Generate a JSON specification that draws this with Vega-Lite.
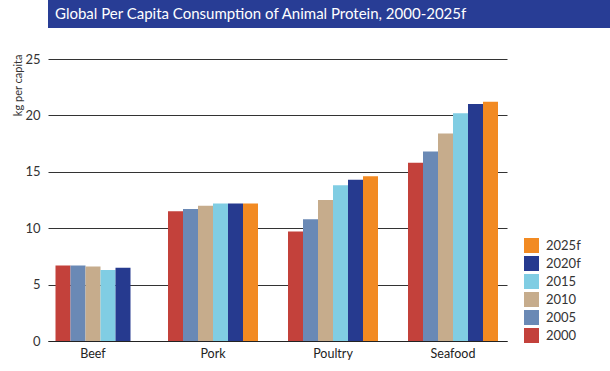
{
  "$schema": "https://vega.github.io/schema/vega-lite/v6.json",
  "background": "white",
  "padding": 0,
  "spacing": 25,
  "config": {
    "view": {"stroke": null},
    "font": "Lato",
    "axis": {"labelFont": "Lato", "titleFont": "Lato"},
    "legend": {"labelFont": "Lato"}
  },
  "vconcat": [
    {
      "width": 610,
      "height": 28,
      "view": {"fill": "#283d95", "stroke": null},
      "data": {"values": [{"heading": "Global Per Capita Consumption of Animal Protein, 2000-2025f"}]},
      "mark": {"type": "text", "align": "left", "baseline": "middle", "color": "white", "fontSize": 15, "font": "Lato"},
      "encoding": {"text": {"field": "heading"}, "x": {"value": 7}, "y": {"value": 14}}
    },
    {
      "width": 459,
      "height": 282,
      "data": {
        "values": [
          {"food": "Beef", "year": "2000", "kg": 6.7},
          {"food": "Beef", "year": "2005", "kg": 6.7},
          {"food": "Beef", "year": "2010", "kg": 6.6},
          {"food": "Beef", "year": "2015", "kg": 6.3},
          {"food": "Beef", "year": "2020f", "kg": 6.5},
          {"food": "Pork", "year": "2000", "kg": 11.5},
          {"food": "Pork", "year": "2005", "kg": 11.7},
          {"food": "Pork", "year": "2010", "kg": 12.0},
          {"food": "Pork", "year": "2015", "kg": 12.2},
          {"food": "Pork", "year": "2020f", "kg": 12.2},
          {"food": "Pork", "year": "2025f", "kg": 12.2},
          {"food": "Poultry", "year": "2000", "kg": 9.7},
          {"food": "Poultry", "year": "2005", "kg": 10.8},
          {"food": "Poultry", "year": "2010", "kg": 12.5},
          {"food": "Poultry", "year": "2015", "kg": 13.8},
          {"food": "Poultry", "year": "2020f", "kg": 14.3},
          {"food": "Poultry", "year": "2025f", "kg": 14.6},
          {"food": "Seafood", "year": "2000", "kg": 15.8},
          {"food": "Seafood", "year": "2005", "kg": 16.8},
          {"food": "Seafood", "year": "2010", "kg": 18.4},
          {"food": "Seafood", "year": "2015", "kg": 20.2},
          {"food": "Seafood", "year": "2020f", "kg": 21.0},
          {"food": "Seafood", "year": "2025f", "kg": 21.2}
        ]
      },
      "encoding": {
        "x": {
          "field": "food", "type": "nominal",
          "sort": ["Beef", "Pork", "Poultry", "Seafood"],
          "scale": {"paddingInner": 0.25, "paddingOuter": 0.0375, "align": 0},
          "axis": {"title": null, "labelAngle": 0, "ticks": false, "domain": true, "domainColor": "#222", "domainWidth": 1.2, "labelFontSize": 12.5, "labelColor": "#222", "labelPadding": 6}
        },
        "y": {
          "field": "kg", "type": "quantitative",
          "scale": {"domain": [0, 25], "nice": false},
          "axis": {
            "values": [0, 5, 10, 15, 20, 25],
            "title": "kg per capita",
            "titleFontSize": 11, "titleFontWeight": "normal", "titleColor": "#333",
            "titleX": -30, "titleY": -5, "titleAlign": "right", "titleBaseline": "middle", "titleAngle": -90,
            "domain": false,
            "ticks": true, "tickSize": 48, "tickOpacity": 0,
            "labelPadding": -40, "labelFontSize": 13, "labelColor": "#333",
            "grid": true, "gridColor": "#333", "gridWidth": 1
          }
        },
        "color": {
          "field": "year", "type": "nominal",
          "scale": {
            "domain": ["2025f", "2020f", "2015", "2010", "2005", "2000"],
            "range": ["#f28a22", "#263a8f", "#80cde3", "#c6ac8c", "#6a89b5", "#c3413b"]
          },
          "legend": {
            "orient": "none", "legendX": 476, "legendY": 238, "title": null,
            "symbolType": "square", "symbolSize": 225, "symbolStrokeWidth": 0, "symbolOpacity": 1,
            "labelFontSize": 13, "labelColor": "#333", "labelOffset": 7, "rowPadding": 3, "padding": 0
          }
        }
      },
      "layer": [
        {
          "transform": [{"filter": "datum.food !== 'Beef'"}],
          "mark": {"type": "bar"},
          "encoding": {"xOffset": {"field": "year", "type": "nominal", "scale": {"domain": ["2000", "2005", "2010", "2015", "2020f", "2025f"]}}}
        },
        {
          "transform": [{"filter": "datum.food === 'Beef'"}],
          "mark": {"type": "bar"},
          "encoding": {"xOffset": {"field": "year", "type": "nominal", "scale": {"domain": ["2000", "2005", "2010", "2015", "2020f"], "paddingOuter": 0.5}}}
        }
      ],
      "resolve": {"scale": {"xOffset": "independent"}}
    }
  ]
}
